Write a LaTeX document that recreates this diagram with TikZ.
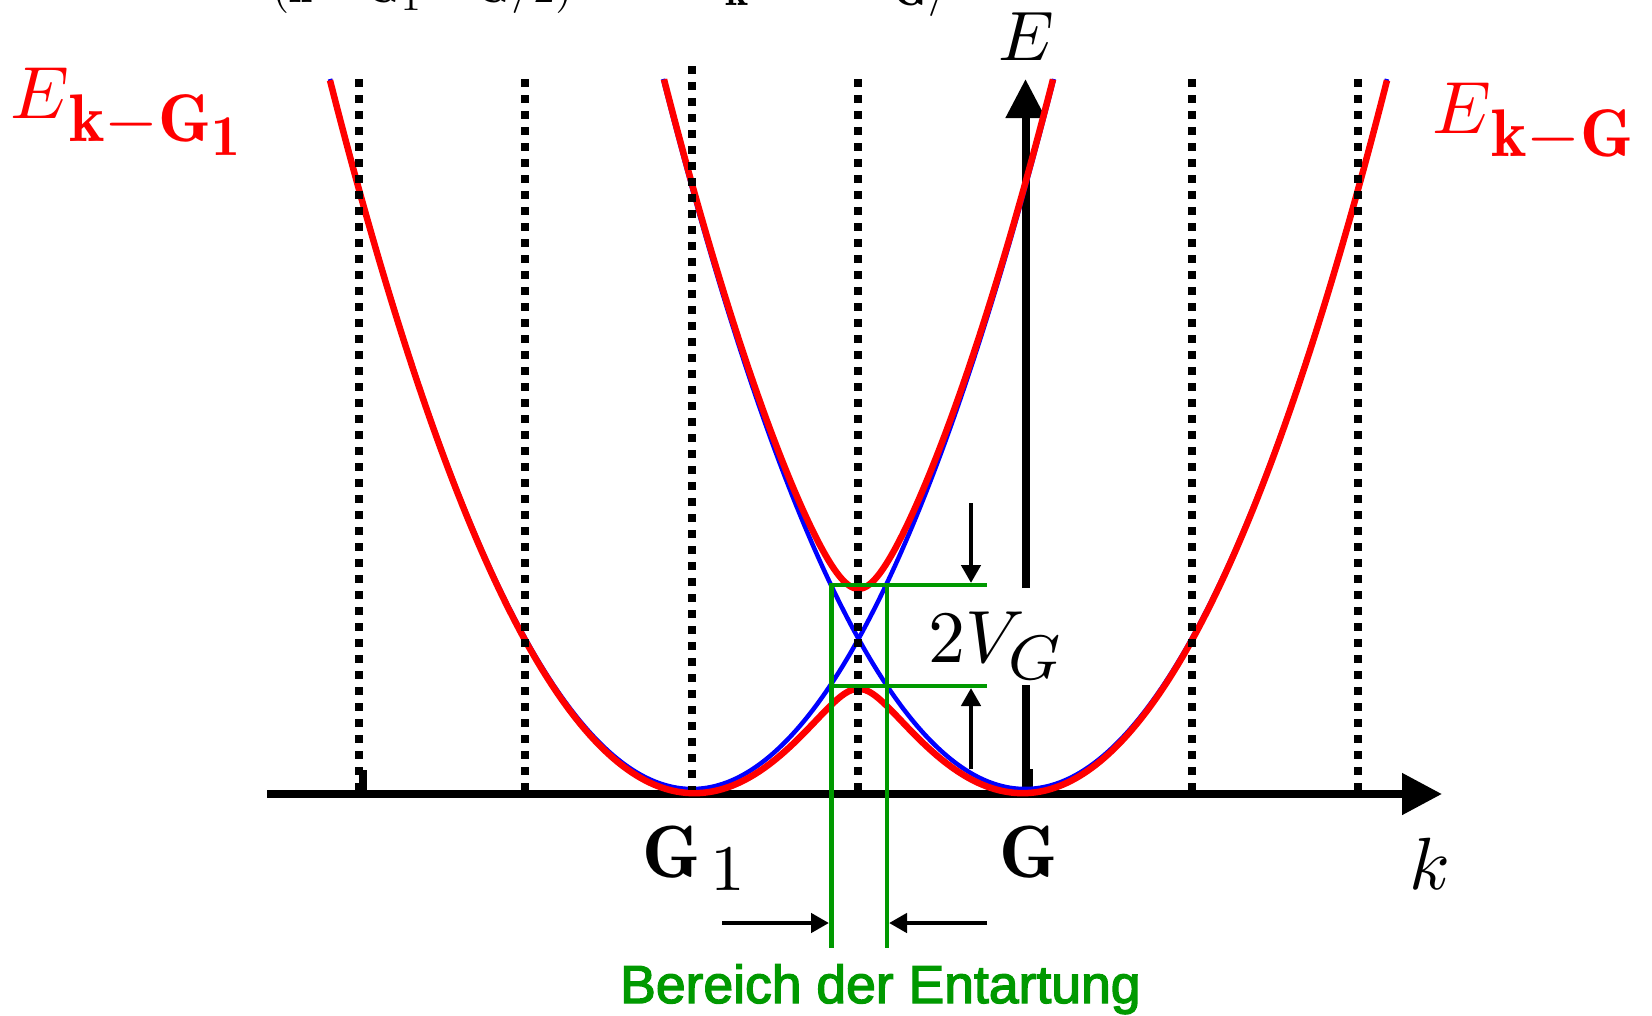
\RequirePackage{fix-cm}
\documentclass[tikz,border=0pt]{standalone}
\usepackage{fontspec}
\newfontfamily\arialfont[FakeBold=2.5]{Liberation Sans}
\usetikzlibrary{arrows.meta}
\definecolor{dgreen}{RGB}{0,153,0}
\DeclareMathSizes{10}{10}{8.5}{6}
\newcommand{\mylab}[2]{\scalebox{#1}{#2}}
\begin{document}
\begin{tikzpicture}[x=1pt,y=-1pt,
  declare function={
    ea(\t)=7.1*((\t-692)/362)*((\t-692)/362);
    eb(\t)=7.1*((\t-1025)/362)*((\t-1025)/362);
    bl(\t)=0.5*(ea(\t)+eb(\t))-sqrt((0.5*(ea(\t)-eb(\t)))*(0.5*(ea(\t)-eb(\t)))+0.25);
    bu(\t)=0.5*(ea(\t)+eb(\t))+sqrt((0.5*(ea(\t)-eb(\t)))*(0.5*(ea(\t)-eb(\t)))+0.25);
  },
  dotv/.style={line width=7.5pt, dash pattern=on 7.5pt off 8.5pt},
  axisline/.style={line width=8pt},
  blueline/.style={blue, line width=4.5pt},
  redline/.style={red, line width=6.5pt, line join=round},
  grn/.style={dgreen, line width=4.5pt},
  sarrow/.style={line width=4.5pt, -{Triangle[length=18pt,width=19pt]}},
  lab/.style={inner sep=0pt, anchor=base west},
]
\useasboundingbox (0,0) rectangle (1652,1015);

% partially visible formula at the top edge
\node[lab] (top1) at (272,2) {\mylab{4.4}{$(\mathbf{k}-\mathbf{G}_1-\mathbf{G}/2)$}};
\node[lab] (top2) at (725,5) {\mylab{4.4}{$\mathbf{k}$}};
\node[lab] (top3) at (893,5) {\mylab{4.4}{$\mathbf{G}/$}};

% k axis
\coordinate (k0) at (267,794);
\coordinate (k1) at (1442,794);
\draw[axisline,-{Triangle[length=40pt,width=40pt]}] (k0) -- (k1);

% E axis (interrupted by the 2V_G label)
\coordinate (e0) at (1025.5,794);
\coordinate (e1) at (1025.5,685);
\coordinate (e2) at (1025.5,588);
\coordinate (e3) at (1025.5,79);
\draw[axisline] (e0) -- (e1);
\draw[axisline,-{Triangle[length=39pt,width=38pt]}] (e2) -- (e3);
\fill (1022,769) rectangle (1033,794);
\fill (359,770) rectangle (367,794);

% free-electron parabolas
\draw[blueline] plot[domain=330:1054, samples=220] (\x,{789-100*ea(\x)});
\draw[blueline] plot[domain=663:1387, samples=220] (\x,{789-100*eb(\x)});
% bands with gap
\draw[redline] plot[domain=330:1387, samples=400] (\x,{789-100*bl(\x)});
\draw[redline] plot[domain=664:1053, samples=220] (\x,{789-100*bu(\x)});

% dotted zone boundaries
\foreach \xx in {359,525,858,1192,1358} {
  \draw[dotv] (\xx,79) -- (\xx,790);
}
\draw[dotv] (692,66) -- (692,790);

% green degeneracy region
\coordinate (gu0) at (829,585);
\coordinate (gu1) at (987,585);
\coordinate (gd0) at (829,686);
\coordinate (gd1) at (987,686);
\coordinate (gv0) at (831.5,583);
\coordinate (gv0b) at (831.5,948);
\coordinate (gv1) at (887,583);
\coordinate (gv1b) at (887,948);
\draw[grn] (gu0) -- (gu1);
\draw[grn] (gd0) -- (gd1);
\draw[grn] (gv0) -- (gv0b);
\draw[grn] (gv1) -- (gv1b);

% small arrows
\coordinate (a1s) at (971,503);
\coordinate (a1e) at (971,583);
\coordinate (a2s) at (971,769);
\coordinate (a2e) at (971,688);
\coordinate (a3s) at (722,923);
\coordinate (a3e) at (829,923);
\coordinate (a4s) at (987,923);
\coordinate (a4e) at (889,923);
\draw[sarrow] (a1s) -- (a1e);
\draw[sarrow] (a2s) -- (a2e);
\draw[sarrow] (a3s) -- (a3e);
\draw[sarrow] (a4s) -- (a4e);

% labels
\node[lab] (lE) at (998,60) {\mylab{7.0}{$E$}};
\node[lab] (lk) at (1409,889) {\mylab{7.4}{$k$}};
\node[lab] (lG) at (999,877) {\mylab{7.4}{$\mathbf{G}$}};
\node[lab] (lG1) at (642,877) {\mylab{7.4}{$\mathbf{G}$\kern1.4pt\lower1.8pt\hbox{\fontsize{8.8}{10}\selectfont$1$}}};
\node[lab] (l2v) at (928,662) {\mylab{7.4}{$2V_{\lower0.4pt\hbox{$\scriptstyle G$}}$}};
\node[lab,red] (lekg1) at (10,118) {\mylab{7.4}{$E$\lower3.2pt\hbox{\fontsize{9.1}{10}\selectfont$\mathbf{k}{-}\mathbf{G}$\lower1.8pt\hbox{\fontsize{7.8}{9}\selectfont$\mathbf{1}$}}}};
\node[lab,red] (lekg) at (1432,133) {\mylab{7.4}{$E$\lower3.2pt\hbox{\fontsize{9.1}{10}\selectfont$\mathbf{k}{-}\mathbf{G}$}}};
\node[lab,text=dgreen] (lber) at (620,1003) {\fontsize{53.5}{60}\arialfont Bereich der Entartung};
\end{tikzpicture}
\end{document}
